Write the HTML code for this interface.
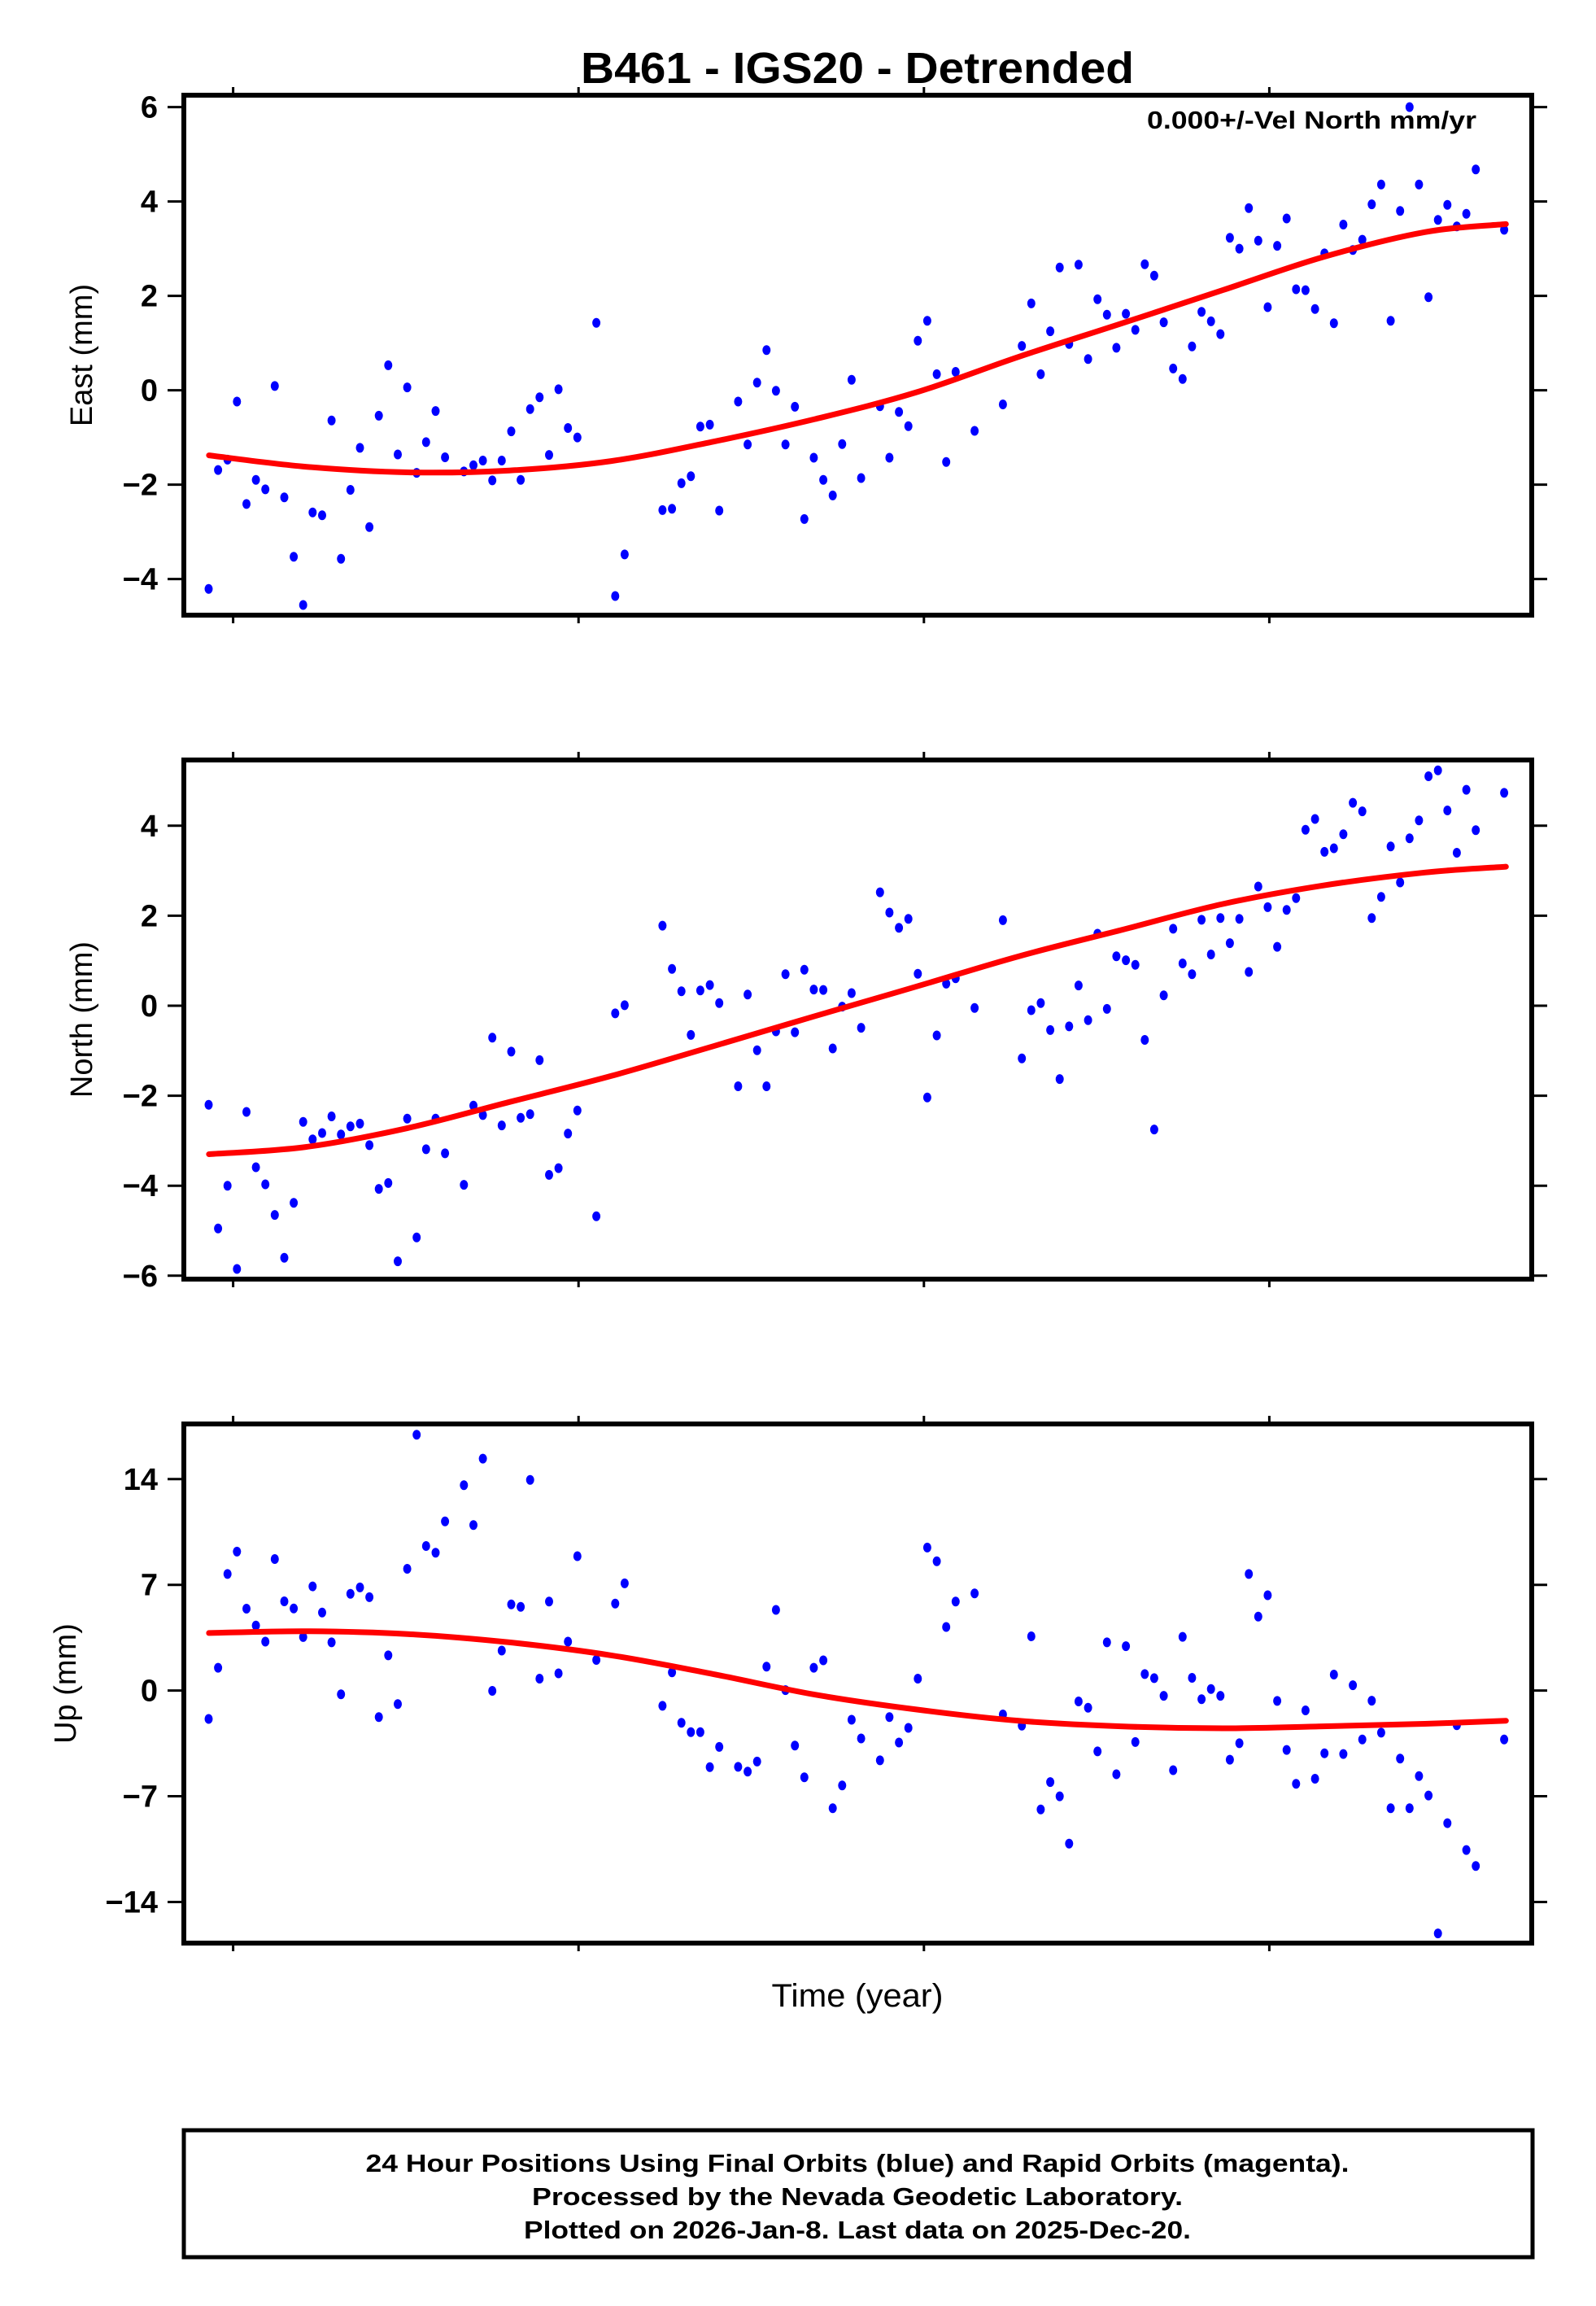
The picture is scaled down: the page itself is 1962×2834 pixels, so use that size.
<!DOCTYPE html>
<html><head><meta charset="utf-8"><style>
html,body{margin:0;padding:0;background:#fff;}
svg{display:block;font-family:"Liberation Sans",Arial,sans-serif;}
</style></head><body>
<svg id="chart" width="1962" height="2834" viewBox="0 0 1962 2834" xmlns="http://www.w3.org/2000/svg">
<rect x="0" y="0" width="1962" height="2834" fill="#fff"/>
<text x="1054" y="102" text-anchor="middle" font-weight="bold" font-size="54" textLength="680" lengthAdjust="spacingAndGlyphs">B461 - IGS20 - Detrended</text>
<text x="1815" y="158" text-anchor="end" font-weight="bold" font-size="31" textLength="405" lengthAdjust="spacingAndGlyphs">0.000+/-Vel North mm/yr</text>
<g id="panels"></g>
<text x="1054" y="2466" text-anchor="middle" font-size="40" textLength="211" lengthAdjust="spacingAndGlyphs">Time (year)</text>
<rect x="226" y="2618" width="1658" height="156" fill="none" stroke="#000" stroke-width="5"/>
<text x="1054" y="2669" text-anchor="middle" font-weight="bold" font-size="31" textLength="1209" lengthAdjust="spacingAndGlyphs">24 Hour Positions Using Final Orbits (blue) and Rapid Orbits (magenta).</text>
<text x="1054" y="2710" text-anchor="middle" font-weight="bold" font-size="31" textLength="800" lengthAdjust="spacingAndGlyphs">Processed by the Nevada Geodetic Laboratory.</text>
<text x="1054" y="2751" text-anchor="middle" font-weight="bold" font-size="31" textLength="820" lengthAdjust="spacingAndGlyphs">Plotted on 2026-Jan-8. Last data on 2025-Dec-20.</text>
</svg>
<script>
// epochs: days since 2017-11-10 (start year 2017.858)
const epochDays = [0,20,40,60,80,100,120,140,160,180,200,220,240,260,280,300,320,340,360,380,400,420,440,460,480,500,520,540,560,580,600,620,640,660,680,700,720,740,760,780,800,820,840,860,880,900,920,940,960,980,1000,1020,1040,1060,1080,1100,1120,1140,1160,1180,1200,1220,1240,1260,1280,1300,1320,1340,1360,1380,1400,1420,1440,1460,1480,1500,1520,1540,1560,1580,1600,1620,1640,1660,1680,1700,1720,1740,1760,1780,1800,1820,1840,1860,1880,1900,1920,1940,1960,1980,2000,2020,2040,2060,2080,2100,2120,2140,2160,2180,2200,2220,2240,2260,2280,2300,2320,2340,2360,2380,2400,2420,2440,2460,2480,2500,2520,2540,2560,2580,2600,2620,2640,2660,2680,2700,2720,2740];
const eastValues = [-4.21,-1.69,-1.47,-0.24,-2.41,-1.90,-2.10,0.09,-2.27,-3.53,
-4.55,-2.59,-2.65,-0.64,-3.57,-2.11,-1.22,-2.90,-0.54,0.53,
-1.36,0.06,-1.75,-1.10,-0.44,-1.42,null,-1.72,-1.59,-1.49,
-1.91,-1.49,-0.87,-1.90,-0.40,-0.15,-1.37,0.02,-0.80,-1.00,
null,1.43,null,-4.36,-3.48,null,null,null,-2.54,-2.51,
-1.97,-1.82,-0.77,-0.73,-2.55,null,-0.24,-1.15,0.16,0.85,
-0.01,-1.15,-0.35,-2.73,-1.43,-1.90,-2.23,-1.14,0.22,-1.86,
null,-0.34,-1.43,-0.46,-0.76,1.05,1.47,0.34,-1.52,0.39,
null,-0.86,null,null,-0.30,null,0.94,1.84,0.34,1.25,
2.60,0.98,2.66,0.66,1.93,1.60,0.90,1.62,1.28,2.67,
2.43,1.44,0.46,0.24,0.93,1.66,1.46,1.19,3.23,3.00,
3.86,3.17,1.76,3.06,3.64,2.14,2.12,1.72,2.90,1.42,
3.51,2.97,3.19,3.94,4.36,1.47,3.80,6.00,4.36,1.97,
3.61,3.93,3.47,3.74,4.68,null,null,3.40];
const northValues = [-2.20,-4.95,-4.00,-5.85,-2.36,-3.59,-3.97,-4.65,-5.60,-4.38,
-2.58,-2.97,-2.83,-2.46,-2.86,-2.68,-2.62,-3.10,-4.07,-3.94,
-5.68,-2.51,-5.15,-3.19,-2.51,-3.28,null,-3.98,-2.22,-2.43,
-0.71,-2.66,-1.02,-2.49,-2.41,-1.21,-3.76,-3.61,-2.84,-2.33,
null,-4.68,null,-0.17,0.01,null,null,null,1.78,0.82,
0.32,-0.65,0.34,0.46,0.06,null,-1.79,0.25,-0.99,-1.79,
-0.57,0.70,-0.59,0.80,0.36,0.35,-0.95,-0.02,0.28,-0.49,
null,2.52,2.07,1.73,1.93,0.71,-2.04,-0.66,0.49,0.61,
null,-0.05,null,null,1.90,null,-1.17,-0.10,0.06,-0.54,
-1.63,-0.46,0.45,-0.32,1.60,-0.07,1.10,1.01,0.91,-0.76,
-2.75,0.23,1.71,0.94,0.70,1.91,1.14,1.95,1.39,1.93,
0.75,2.65,2.19,1.31,2.13,2.39,3.91,4.15,3.42,3.50,
3.81,4.51,4.32,1.95,2.42,3.54,2.74,3.72,4.12,5.10,
5.23,4.34,3.40,4.80,3.90,null,null,4.73];
const upValues = [-1.88,1.51,7.72,9.20,5.42,4.30,3.24,8.71,5.91,5.44,
3.54,6.90,5.17,3.19,-0.25,6.41,6.83,6.18,-1.76,2.33,
-0.89,8.06,16.94,9.57,9.13,11.20,null,13.60,10.96,15.36,
-0.02,2.65,5.71,5.54,13.95,0.79,5.89,1.14,3.24,8.90,
null,2.03,null,5.76,7.10,null,null,null,-1.01,1.21,
-2.13,-2.75,-2.75,-5.07,-3.73,null,-5.05,-5.37,-4.70,1.58,
5.34,0.03,-3.64,-5.74,1.51,2.00,-7.79,-6.28,-1.93,-3.17,
null,-4.62,-1.76,-3.44,-2.47,0.79,9.47,8.56,4.21,5.89,
null,6.43,null,null,-1.58,null,-2.32,3.59,-7.87,-6.06,
-7.00,-10.14,-0.72,-1.14,-4.03,3.19,-5.54,2.94,-3.41,1.09,
0.82,-0.35,-5.27,3.56,0.84,-0.57,0.10,-0.35,-4.58,-3.49,
7.72,4.90,6.31,-0.69,-3.93,-6.18,-1.31,-5.84,-4.15,1.06,
-4.20,0.35,-3.24,-0.67,-2.79,-7.79,-4.50,-7.79,-5.66,-6.95,
-16.08,-8.78,-2.30,-10.56,-11.62,null,null,-3.24];
// fitted model curves (sampled)
const fitYears = [2017.86,2018.42,2019.01,2019.60,2020.19,2020.78,2021.37,2021.96,2022.55,2023.14,2023.73,2024.31,2024.90,2025.37];
const eastFit = [-1.38,-1.62,-1.74,-1.70,-1.50,-1.09,-0.61,-0.04,0.71,1.41,2.12,2.82,3.35,3.52];
const northFit = [-3.30,-3.14,-2.72,-2.14,-1.56,-0.90,-0.23,0.43,1.10,1.68,2.26,2.67,2.96,3.09];
const upFit = [3.81,3.93,3.74,3.19,2.33,1.09,-0.27,-1.26,-2.00,-2.37,-2.50,-2.37,-2.20,-2.00];
const xTickYears = [2018,2020,2022,2024];
const eastTicks = [-4,-2,0,2,4,6];
const northTicks = [-6,-4,-2,0,2,4];
const upTicks = [-14,-7,0,7,14];

const NS='http://www.w3.org/2000/svg';
const root=document.getElementById('panels');
const L=226,R=1883;
function xScale(yr){return 286.6+(yr-2018)*212.3;}
function dayToYear(d){return 2017.858+d/365.25;}
function mk(tag,attrs,parent){const e=document.createElementNS(NS,tag);for(const k in attrs)e.setAttribute(k,attrs[k]);(parent||root).appendChild(e);return e;}

const panels=[
 {key:'east',label:'East (mm)',top:117,bottom:756,refV:6,refY:131.6,ppu:58,ticks:eastTicks,vals:eastValues,fit:eastFit,lx:100},
 {key:'north',label:'North (mm)',top:934,bottom:1572,refV:4,refY:1014.8,ppu:55.3,ticks:northTicks,vals:northValues,fit:northFit,lx:100},
 {key:'up',label:'Up (mm)',top:1750,bottom:2388,refV:14,refY:1817.8,ppu:18.56,ticks:upTicks,vals:upValues,fit:upFit,lx:80}
];

panels.forEach(p=>{
 const yScale=v=>p.refY-(v-p.refV)*p.ppu;
 const g=mk('g',{});
 
 
 const clipId='clip-'+p.key;
 const cp=mk('clipPath',{id:clipId},g);
 mk('rect',{x:L,y:p.top,width:R-L,height:p.bottom-p.top},cp);
 const pts=mk('g',{'clip-path':'url(#'+clipId+')'},g);
 
 
 p.vals.forEach((v,i)=>{
  if(v===null)return;
  const c=mk('ellipse',{cx:xScale(dayToYear(epochDays[i])).toFixed(1),cy:yScale(v).toFixed(1),rx:5,ry:6,fill:'#0000ff'},pts);
  
  
 });
 const P=fitYears.map((y,i)=>[xScale(y),yScale(p.fit[i])]);
 let d='M'+P[0][0]+','+P[0][1];
 for(let i=0;i<P.length-1;i++){
  const p0=P[i-1]||P[i],p1=P[i],p2=P[i+1],p3=P[i+2]||P[i+1];
  const c1=[p1[0]+(p2[0]-p0[0])/6,p1[1]+(p2[1]-p0[1])/6];
  const c2=[p2[0]-(p3[0]-p1[0])/6,p2[1]-(p3[1]-p1[1])/6];
  d+=' C'+c1[0].toFixed(1)+','+c1[1].toFixed(1)+' '+c2[0].toFixed(1)+','+c2[1].toFixed(1)+' '+p2[0].toFixed(1)+','+p2[1].toFixed(1);
 }
 const fl=mk('path',{d:d,fill:'none',stroke:'#ff0000','stroke-width':7,'stroke-linecap':'round'},g);
 
 
 const fr=mk('rect',{x:L,y:p.top,width:R-L,height:p.bottom-p.top,fill:'none',stroke:'#000','stroke-width':6},g);
 
 
 p.ticks.forEach(t=>{
  const y=yScale(t);
  const tl=mk('line',{x1:206,x2:L,y1:y,y2:y,stroke:'#000','stroke-width':3},g);
  
  
  const tr=mk('line',{x1:R,x2:1902,y1:y,y2:y,stroke:'#000','stroke-width':3},g);
  
  
  const tx=mk('text',{x:194,y:y+13,'text-anchor':'end','font-weight':'bold','font-size':38},g);
  tx.textContent=(t<0?'\u2212'+Math.abs(t):String(t));
  
  
 });
 xTickYears.forEach(yr=>{
  const x=xScale(yr);
  const a=mk('line',{x1:x,x2:x,y1:p.top-10,y2:p.top,stroke:'#000','stroke-width':3},g);
  
  
  const b=mk('line',{x1:x,x2:x,y1:p.bottom,y2:p.bottom+10,stroke:'#000','stroke-width':3},g);
  
  
 });
 const cy=(p.top+p.bottom)/2;
 const lab=mk('text',{x:p.lx,y:cy,'text-anchor':'middle','font-size':38,transform:'rotate(-90 '+p.lx+' '+cy+')',dy:13},g);
 lab.textContent=p.label;
 
 
});
</script>
</body></html>
